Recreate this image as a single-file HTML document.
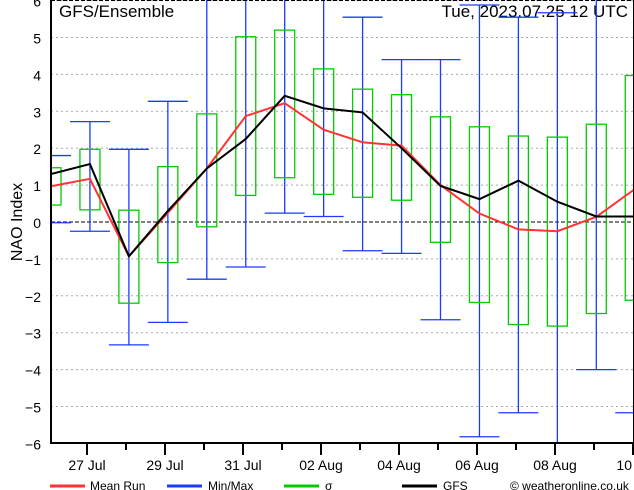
<!DOCTYPE html>
<html><head><meta charset="utf-8"><style>
body{margin:0;background:#fff;}
svg{display:block;font-family:"Liberation Sans",sans-serif;}
</style></head><body>
<svg id="c" width="634" height="490">
<text x="59" y="17" font-size="17">GFS/Ensemble</text>
<text x="628" y="17" font-size="17" text-anchor="end">Tue, 2023.07.25  12 UTC</text>
<text transform="translate(22,222) rotate(-90)" font-size="16" text-anchor="middle">NAO Index</text>
<g id="legend" font-size="12">
<g><line x1="50" y1="486" x2="85" y2="486" stroke="#f33" stroke-width="3"/><text x="90" y="490">Mean Run</text></g>
<g><line x1="167" y1="486" x2="202" y2="486" stroke="#1a3cff" stroke-width="3"/><text x="208" y="490">Min/Max</text></g>
<g><line x1="284" y1="486" x2="319" y2="486" stroke="#0c0" stroke-width="3"/><text x="325" y="490">σ</text></g>
<g><line x1="402" y1="486" x2="437" y2="486" stroke="#000" stroke-width="3"/><text x="443" y="490">GFS</text></g>
<text x="510" y="490">© weatheronline.co.uk</text>
</g>
</svg>
<script>
const yTicks=[6,5,4,3,2,1,0,-1,-2,-3,-4,-5,-6];
const xLabels=["27 Jul","29 Jul","31 Jul","02 Aug","04 Aug","06 Aug","08 Aug","10"];
const meanRun=[0.97,1.17,-0.93,0.25,1.45,2.87,3.22,2.5,2.16,2.07,1.0,0.23,-0.2,-0.25,0.14,0.9];
const gfs=[1.3,1.57,-0.93,0.3,1.45,2.25,3.42,3.08,2.97,2.0,0.98,0.62,1.12,0.55,0.15,0.15];
const sigmaLow=[0.46,0.33,-2.2,-1.1,-0.13,0.72,1.2,0.75,0.67,0.59,-0.55,-2.18,-2.78,-2.82,-2.48,-2.12];
const sigmaHigh=[1.47,1.97,0.32,1.5,2.93,5.02,5.2,4.15,3.6,3.45,2.85,2.58,2.33,2.3,2.65,3.97];
const minVals=[-0.02,-0.25,-3.33,-2.72,-1.55,-1.22,0.24,0.15,-0.78,-0.85,-2.65,-5.82,-5.17,-6.5,-4.0,-5.17];
const maxVals=[1.8,2.72,1.97,3.27,6.5,6.5,6.5,6.5,5.55,4.4,4.4,5.88,5.55,5.67,6.5,6.5];
const NS="http://www.w3.org/2000/svg";
const svgEl=document.getElementById('c');
const PL=51,PR=633,PT=0,PB=443;
const yS=v=>222-36.9*v;
const xS=i=>51+38.95*i;
function mk(t,a,p){const e=document.createElementNS(NS,t);for(const k in a)e.setAttribute(k,a[k]);(p||svgEl).appendChild(e);return e;}
const clipEl=mk('clipPath',{id:'pc'});mk('rect',{x:PL,y:PT,width:PR-PL+2,height:PB-PT},clipEl);
yTicks.forEach(v=>{
  const g=mk('line',{x1:PL,x2:PR,y1:yS(v),y2:yS(v),stroke:v===0?'#000':'#aaa','stroke-dasharray':v===0?'4,2':'2,3','stroke-width':1});
  
  
  const t=mk('text',{x:41,y:yS(v)+6,'font-size':14,'text-anchor':'end'});t.textContent=String(v).replace('-','−');
  
  
});
const plot=mk('g',{'clip-path':'url(#pc)'});


for(let i=0;i<meanRun.length;i++){
  const cx=xS(i);
  const w=mk('g',{stroke:'#1a3cff','stroke-width':1.3,fill:'none'},plot);
  
  
  mk('line',{x1:cx,x2:cx,y1:yS(minVals[i]),y2:yS(maxVals[i])},w);
  mk('line',{x1:cx-20,x2:cx+20,y1:yS(minVals[i]),y2:yS(minVals[i])},w);
  mk('line',{x1:cx-20,x2:cx+20,y1:yS(maxVals[i]),y2:yS(maxVals[i])},w);
  const b=mk('rect',{x:cx-10,y:yS(sigmaHigh[i]),width:20,height:yS(sigmaLow[i])-yS(sigmaHigh[i]),stroke:'#0c0','stroke-width':1.3,fill:'none'},plot);
  
  
}
const meanLine=mk('polyline',{points:meanRun.map((v,i)=>xS(i)+','+yS(v)).join(' '),stroke:'#f33','stroke-width':2,fill:'none'},plot);


const gfsLine=mk('polyline',{points:gfs.map((v,i)=>xS(i)+','+yS(v)).join(' '),stroke:'#000','stroke-width':2,fill:'none'},plot);


const topLine=mk('line',{x1:PL,x2:PR,y1:0.5,y2:0.5,stroke:'#000','stroke-dasharray':'4,2'});


const axesEl=mk('path',{d:`M${PL},0V${PB}H${PR+1}V0`,stroke:'#000','stroke-width':2,fill:'none'});


for(let k=0;k<15;k++){
  const tx=87+39*k;if(tx>634)break;
  const tk=mk('line',{x1:tx,x2:tx,y1:PB,y2:PB+(k%2===0?12:7),stroke:'#000','stroke-width':2});
  
  
}
xLabels.forEach((s,j)=>{
  const tx=87+78*j;
  const last=j===xLabels.length-1;
  const t=mk('text',{x:last?632:tx,y:470,'font-size':14,'text-anchor':last?'end':'middle'});
  t.textContent=s;
  
  
});
</script>
</body></html>
